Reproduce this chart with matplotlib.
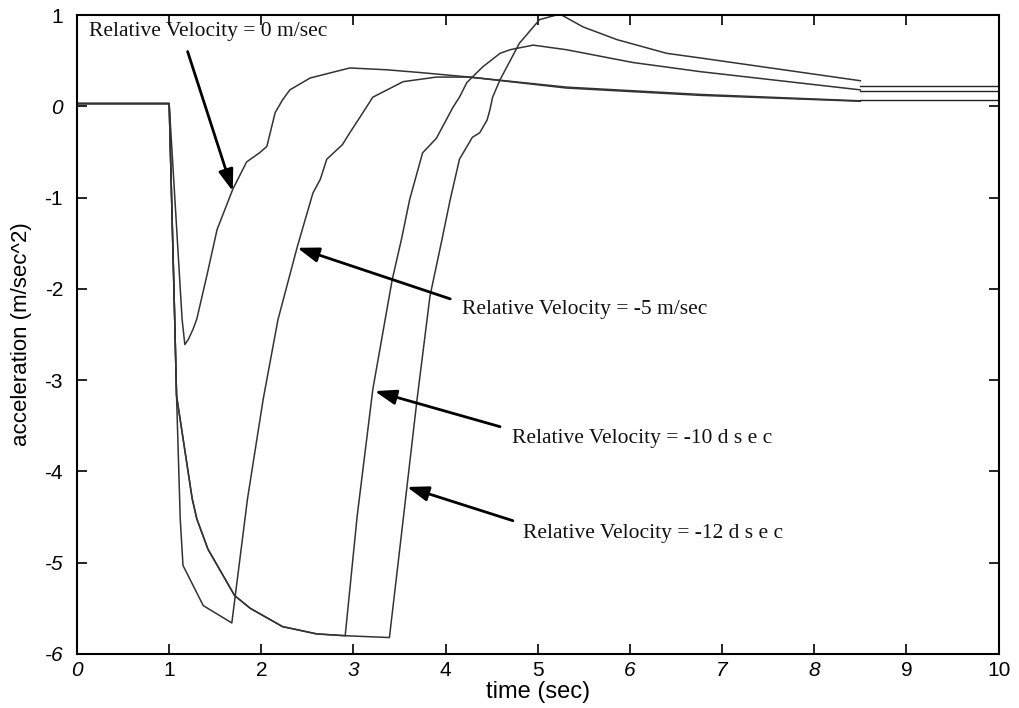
import matplotlib.pyplot as plt

plt.rcParams['axes.unicode_minus'] = False

# time (sec) and acceleration (m/sec^2)
t_v0 = [0.0, 1.0, 1.14, 1.17, 1.21, 1.26, 1.30, 1.41, 1.52, 1.69, 1.84, 1.98, 2.06,
        2.15, 2.23, 2.31, 2.53, 2.96, 3.36, 3.72, 4.26, 5.31, 6.76, 8.5]
a_v0 = [0.03, 0.03, -2.33, -2.61, -2.55, -2.44, -2.33, -1.85, -1.35, -0.91, -0.61, -0.51, -0.44,
        -0.07, 0.07, 0.18, 0.31, 0.42, 0.40, 0.37, 0.32, 0.21, 0.13, 0.06]

t_v5 = [0.0, 1.0, 1.06, 1.08, 1.12, 1.15, 1.37, 1.68, 1.85, 2.02, 2.18, 2.39, 2.56,
        2.64, 2.71, 2.88, 2.96, 3.07, 3.21, 3.54, 3.90, 4.26, 5.31, 6.76, 8.5]
a_v5 = [0.03, 0.03, -2.33, -3.17, -4.52, -5.03, -5.47, -5.66, -4.30, -3.21, -2.34, -1.54, -0.95,
        -0.80, -0.58, -0.42, -0.29, -0.12, 0.10, 0.27, 0.32, 0.32, 0.20, 0.12, 0.055]

# -10 and -12 share the slow decay after the drop
t_drop = [0.0, 1.0, 1.06, 1.08, 1.25, 1.30, 1.42, 1.71, 1.88, 2.23, 2.60]
a_drop = [0.03, 0.03, -2.33, -3.17, -4.30, -4.52, -4.85, -5.36, -5.50, -5.70, -5.78]

t_v10 = t_drop + [2.91, 3.04, 3.21, 3.42, 3.52, 3.61, 3.75, 3.90, 4.08, 4.15, 4.23,
                  4.40, 4.59, 4.70, 4.95, 5.31, 6.03, 6.76, 8.5]
a_v10 = a_drop + [-5.80, -4.49, -3.10, -1.90, -1.46, -1.02, -0.51, -0.35, -0.01, 0.10, 0.26,
                  0.43, 0.58, 0.62, 0.67, 0.62, 0.48, 0.38, 0.18]

t_v12 = t_drop + [2.91, 3.39, 3.54, 3.69, 3.83, 3.96, 4.05, 4.15, 4.29, 4.37, 4.45,
                  4.48, 4.51, 4.59, 4.80, 5.02, 5.24, 5.49, 5.86, 6.40, 6.76, 8.5]
a_v12 = a_drop + [-5.80, -5.82, -4.52, -3.21, -2.08, -1.46, -1.02, -0.58, -0.34, -0.29, -0.15,
                  -0.04, 0.10, 0.29, 0.69, 0.95, 1.01, 0.87, 0.73, 0.58, 0.53, 0.28]

# flat tails from 8.5 to 10 s
tail_t = [8.5, 10.0]
tail_levels = [0.22, 0.17, 0.07]

x_ticks = [0, 1, 2, 3, 4, 5, 6, 7, 8, 9, 10]
x_italic = [0, 3, 6, 7, 8]
y_ticks = [1, 0, -1, -2, -3, -4, -5, -6]
y_italic = [0, -5, -6]

labels = ["Relative Velocity = 0 m/sec", "Relative Velocity = -5 m/sec",
          "Relative Velocity = -10 d s e c", "Relative Velocity = -12 d s e c"]
label_xy = [(0.13, 0.82), (4.18, -2.23), (4.72, -3.64), (4.84, -4.68)]
arrow_tail = [(1.20, 0.60), (4.05, -2.11), (4.59, -3.51), (4.73, -4.54)]
arrow_tip = [(1.69, -0.93), (2.39, -1.55), (3.23, -3.12), (3.58, -4.17)]

fig = plt.figure(figsize=(10.2, 7.08), dpi=100)
ax = fig.add_axes([0.0755, 0.0763, 0.9035, 0.9025])

line_kw = dict(color='#333333', lw=1.1, solid_joinstyle='round')
for t, a in [(t_v0, a_v0), (t_v5, a_v5), (t_v10, a_v10), (t_v12, a_v12)]:
    ax.plot(t, a, **line_kw)
for lvl in tail_levels:
    ax.plot(tail_t, [lvl, lvl], color='#222222', lw=1.0)

for txt, xy, tail, tip in zip(labels, label_xy, arrow_tail, arrow_tip):
    ax.text(xy[0], xy[1], txt, family='Liberation Serif', fontsize=15.5,
            va='center', ha='left', color='#111111')
    ax.annotate('', xy=tip, xytext=tail,
                arrowprops=dict(arrowstyle='-|>,head_length=1.3,head_width=0.45',
                                color='black', lw=2.0, shrinkA=0, shrinkB=0))

ax.set_xlim(0, 10)
ax.set_ylim(-6, 1)
ax.set_xticks(x_ticks)
ax.set_yticks(y_ticks)
ax.tick_params(direction='in', length=7, width=1.2, top=True, right=True,
               labelsize=15)
ax.tick_params(axis='y', pad=10)
ax.tick_params(axis='x', pad=5)
for lab, v in zip(ax.get_xticklabels(), x_ticks):
    lab.set_family('Liberation Sans')
    if v in x_italic:
        lab.set_style('italic')
for lab, v in zip(ax.get_yticklabels(), y_ticks):
    lab.set_family('Liberation Sans')
    if v in y_italic:
        lab.set_style('italic')

for s in ax.spines.values():
    s.set_linewidth(1.5)

ax.set_xlabel('time (sec)', family='Liberation Sans', fontsize=17)
ax.set_ylabel('acceleration (m/sec^2)', family='Liberation Sans', fontsize=16)
ax.xaxis.set_label_coords(0.5, -0.042)
ax.yaxis.set_label_coords(-0.049, 0.5)

fig.savefig('out.png', dpi=100)
